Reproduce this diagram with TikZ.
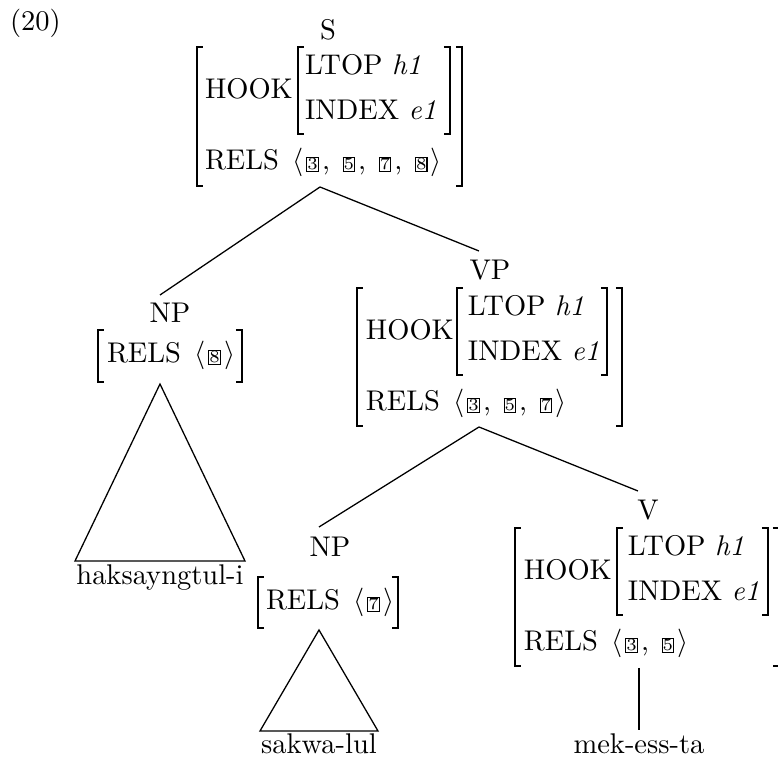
\documentclass[tikz,border=0pt]{standalone}
\newcommand\tg[1]{\hspace{1.1pt}{\fboxsep=0pt\fboxrule=0.4pt\fbox{\makebox[3.6pt]{\rule[-0.4pt]{0pt}{4.6pt}\fontsize{6}{7}\selectfont #1}}}\hspace{1.1pt}}
\newcommand\rls{RELS\hspace{4.6pt}}
\newcommand\BrL[3]{\draw[brk] ({#1+6},#2) -| (#1,#3) -- ({#1+6},#3);}
\newcommand\BrR[3]{\draw[brk] ({#1-6},#2) -| (#1,#3) -- ({#1-6},#3);}
\begin{document}
\begin{tikzpicture}[x=0.351pt,y=-0.351pt,
  txt/.style={inner sep=0pt,outer sep=0pt,anchor=base west},
  cat/.style={inner sep=0pt,outer sep=0pt,anchor=base},
  brk/.style={line width=0.6pt},
  br/.style={line width=0.45pt}]
\useasboundingbox (0,0) rectangle (778,761);

\node[txt] (ex) at (10,31) {(20)};

% ---------- S ----------
\node[cat] (S) at (328,40) {S};
\BrL{197}{47}{186}
\BrR{462}{47}{186}
\BrL{298}{47}{134}
\BrR{450}{47}{134}
\node[txt] (sHook) at (205,99) {HOOK};
\node[txt] (sLtop) at (305,75) {LTOP \textit{h1}};
\node[txt] (sIndex) at (305,120) {INDEX \textit{e1}};
\node[txt] (sRels) at (205,170) {\rls$\langle$\tg{3}, \tg{5}, \tg{7}, \tg{8}$\rangle$};
\coordinate (sApex) at (320,187);

% ---------- NP (left) ----------
\coordinate (npATop) at (160,295);
\node[cat] (npA) at (170,323) {NP};
\BrL{98}{330}{382}
\BrR{242}{330}{382}
\node[txt] (npARels) at (107,363) {\rls$\langle$\tg{8}$\rangle$};
\coordinate (npAApex) at (160,384);
\coordinate (npABL) at (75,561);
\coordinate (npABR) at (245,561);
\node[cat] (wA) at (160,585) {haksayngtul-i};

% ---------- VP ----------
\coordinate (vpTop) at (479,251);
\node[cat] (VP) at (490,280) {VP};
\BrL{357}{288}{426}
\BrR{622}{288}{426}
\BrL{457}{288}{375}
\BrR{607}{288}{375}
\node[txt] (vpHook) at (366,340) {HOOK};
\node[txt] (vpLtop) at (468,316) {LTOP \textit{h1}};
\node[txt] (vpIndex) at (468,361) {INDEX \textit{e1}};
\node[txt] (vpRels) at (366,411) {\rls$\langle$\tg{3}, \tg{5}, \tg{7}$\rangle$};
\coordinate (vpApex) at (479,427);

% ---------- NP (middle) ----------
\coordinate (npBTop) at (319,527);
\node[cat] (npB) at (330,557) {NP};
\BrL{258}{577}{628}
\BrR{398}{577}{628}
\node[txt] (npBRels) at (266,610) {\rls$\langle$\tg{7}$\rangle$};
\coordinate (npBApex) at (319,630);
\coordinate (npBBL) at (260,731);
\coordinate (npBBR) at (378,731);
\node[cat] (wB) at (319,754) {sakwa-lul};

% ---------- V ----------
\coordinate (vTop) at (638,491);
\node[cat] (V) at (648,520) {V};
\BrL{515}{528}{666}
\draw[brk] (773,528) -| (780,666) -- (773,666);
\BrL{617}{528}{615}
\BrR{768}{528}{615}
\node[txt] (vHook) at (524,580) {HOOK};
\node[txt] (vLtop) at (628,556) {LTOP \textit{h1}};
\node[txt] (vIndex) at (628,601) {INDEX \textit{e1}};
\node[txt] (vRels) at (524,651) {\rls$\langle$\tg{3}, \tg{5}$\rangle$};
\coordinate (vBot) at (639,668);
\coordinate (wCTop) at (639,730);
\node[cat] (wC) at (639,754) {mek-ess-ta};

% ---------- branches ----------
\draw[br] (sApex) -- (npATop);
\draw[br] (sApex) -- (vpTop);
\draw[br] (vpApex) -- (npBTop);
\draw[br] (vpApex) -- (vTop);
\draw[br] (vBot) -- (wCTop);
\draw[br] (npAApex) -- (npABL) -- (npABR) -- cycle;
\draw[br] (npBApex) -- (npBBL) -- (npBBR) -- cycle;
\end{tikzpicture}
\end{document}
